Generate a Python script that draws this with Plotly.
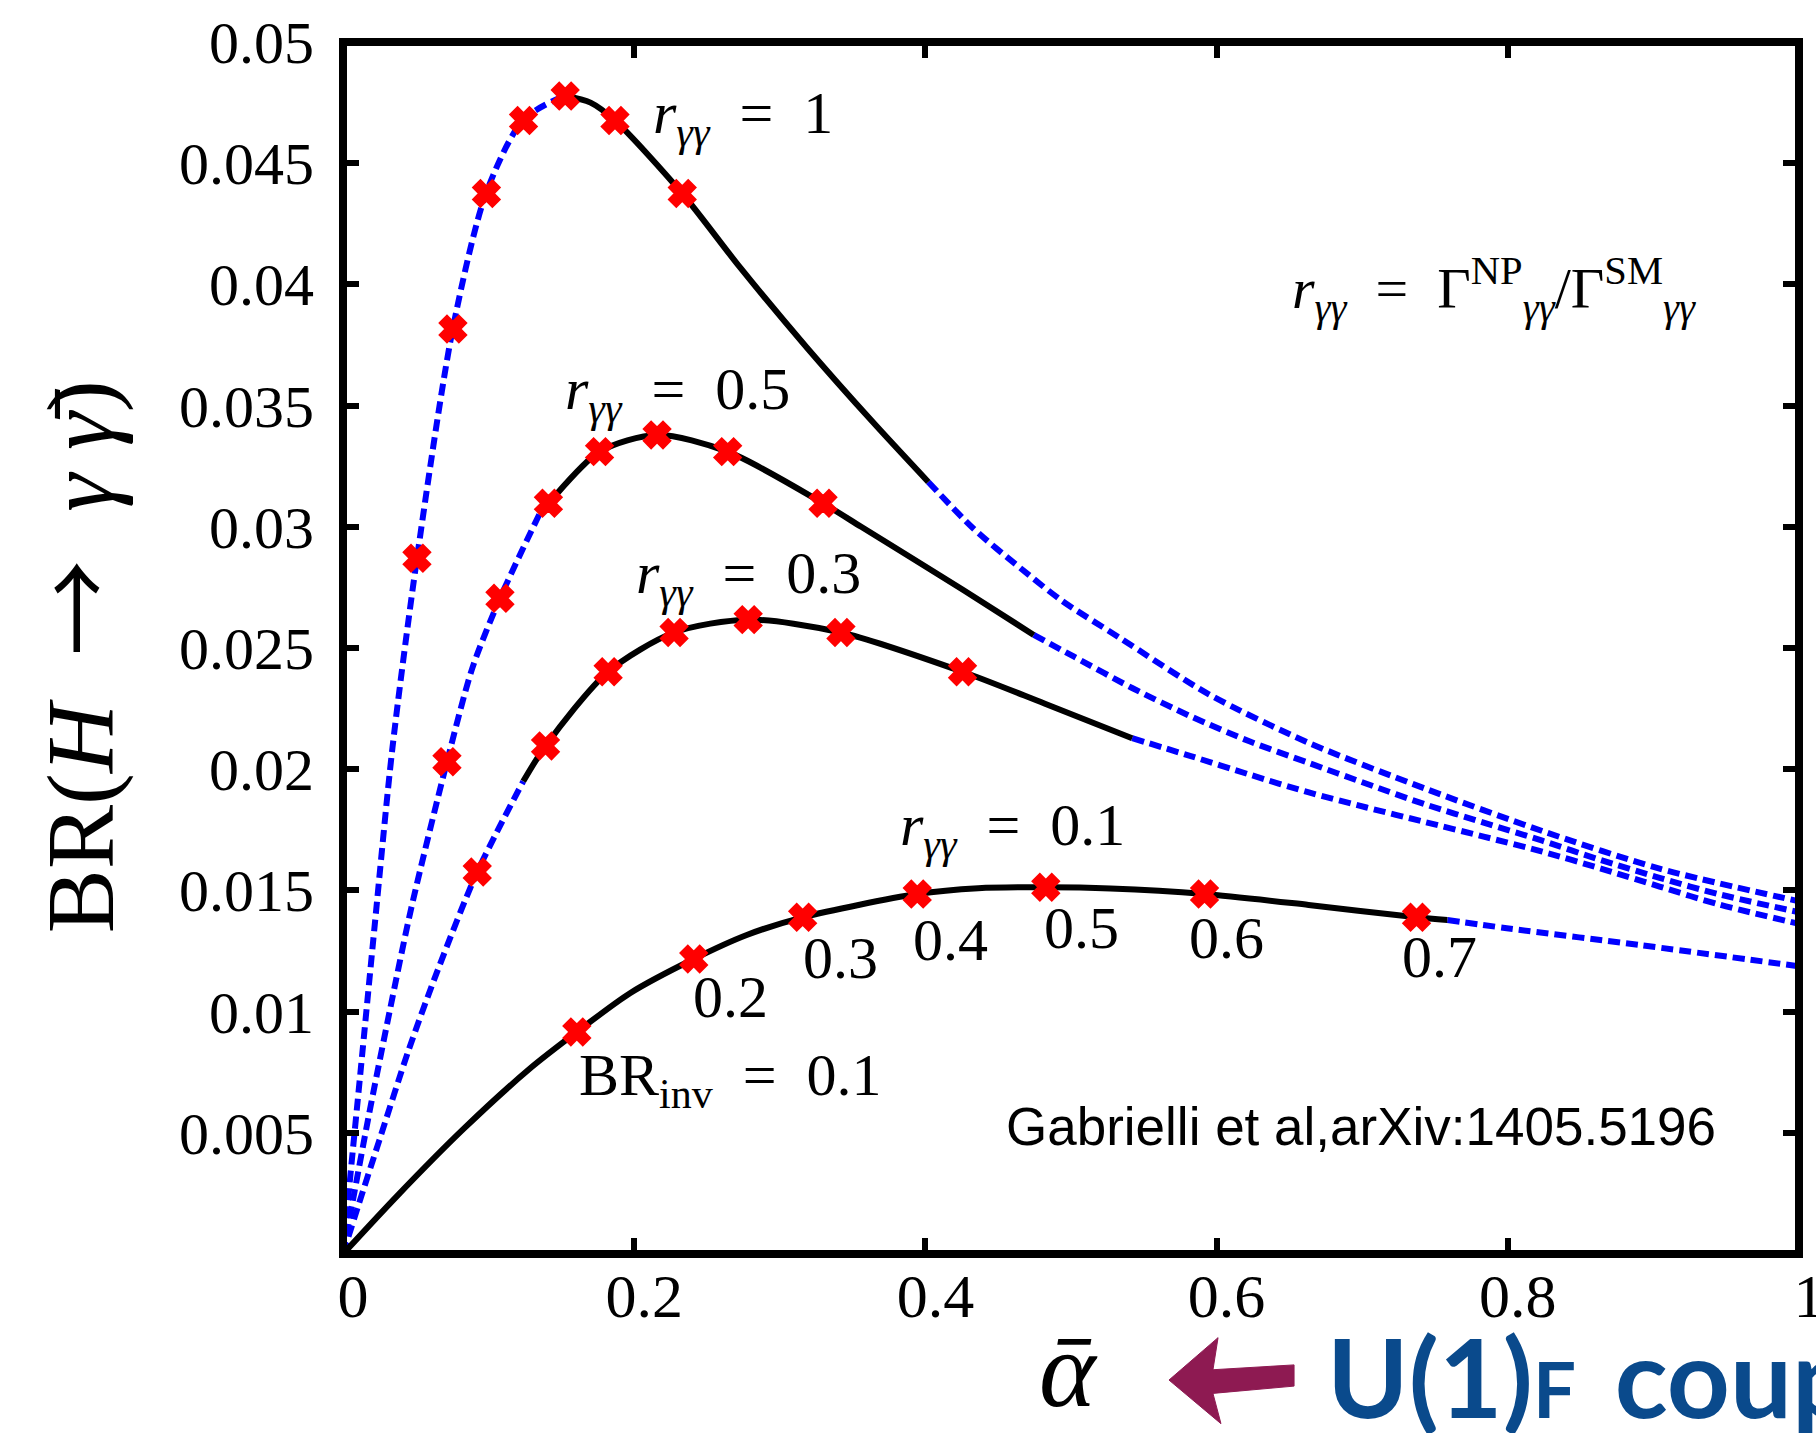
import plotly.graph_objects as go

# ---------------- data ----------------
# r_gg = 1
r1_dl_x = [0, 0.005, 0.012, 0.022, 0.034, 0.0508, 0.0755, 0.0985, 0.124, 0.1526]
r1_dl_y = [0, 0.0032, 0.0075, 0.0137, 0.0209, 0.0287, 0.0382, 0.0438, 0.0468, 0.0478]
r1_s_x = [0.1526, 0.170, 0.1868, 0.2330, 0.2727, 0.3185, 0.3642, 0.4020]
r1_s_y = [0.04777, 0.04750, 0.04676, 0.04375, 0.04070, 0.03740, 0.03430, 0.03185]
r1_dr_x = [0.4020, 0.4335, 0.4656, 0.4938, 0.5340, 0.5944, 0.6628, 0.7432, 0.8237, 0.9042, 1.0]
r1_dr_y = [0.03185, 0.02990, 0.02828, 0.02695, 0.02540, 0.02310, 0.02110, 0.01920, 0.01745, 0.01590, 0.01455]
r1_mk_x = [0.0508, 0.0755, 0.0985, 0.124, 0.1526, 0.1868, 0.2330]
r1_mk_y = [0.02870, 0.03816, 0.04375, 0.04676, 0.04777, 0.04676, 0.04375]

# r_gg = 0.5
r05_dl_x = [0, 0.008, 0.018, 0.032, 0.047, 0.0714, 0.0890, 0.1078, 0.1352]
r05_dl_y = [0, 0.0026, 0.0058, 0.0100, 0.0143, 0.0203, 0.0242, 0.02705, 0.03056]
r05_s_x = [0.1352, 0.1411, 0.1762, 0.2157, 0.2642, 0.3297, 0.3559, 0.3909, 0.4260, 0.4744]
r05_s_y = [0.03056, 0.03097, 0.03310, 0.03379, 0.03310, 0.03097, 0.03000, 0.02870, 0.02739, 0.02554]
r05_dr_x = [0.4744, 0.5018, 0.5420, 0.5823, 0.6225, 0.6628, 0.7030, 0.7432, 0.7834, 0.8237, 0.8639, 0.9042, 0.9444, 1.0]
r05_dr_y = [0.02554, 0.02465, 0.02335, 0.02218, 0.02115, 0.02027, 0.01940, 0.01855, 0.01780, 0.01705, 0.01625, 0.01552, 0.01485, 0.01410]
r05_mk_x = [0.0714, 0.1078, 0.1411, 0.1762, 0.2157, 0.2642, 0.3297]
r05_mk_y = [0.02031, 0.02705, 0.03097, 0.03310, 0.03379, 0.03310, 0.03097]

# r_gg = 0.3
r03_dl_x = [0, 0.010, 0.025, 0.045, 0.065, 0.0922, 0.1238]
r03_dl_y = [0, 0.0019, 0.0047, 0.0084, 0.0117, 0.01576, 0.01950]
r03_s_x = [0.1238, 0.1391, 0.1821, 0.2274, 0.2783, 0.3420, 0.4255, 0.4817, 0.5420]
r03_s_y = [0.01950, 0.02096, 0.02402, 0.02564, 0.02617, 0.02564, 0.02402, 0.02271, 0.02128]
r03_dr_x = [0.5420, 0.5823, 0.6225, 0.6628, 0.7030, 0.7432, 0.7834, 0.8237, 0.8639, 0.9042, 0.9444, 1.0]
r03_dr_y = [0.02128, 0.02054, 0.01978, 0.01905, 0.01842, 0.01782, 0.01722, 0.01660, 0.01590, 0.01516, 0.01443, 0.01362]
r03_mk_x = [0.0922, 0.1391, 0.1821, 0.2274, 0.2783, 0.3420, 0.4255]
r03_mk_y = [0.01576, 0.02096, 0.02402, 0.02564, 0.02617, 0.02564, 0.02402]

# r_gg = 0.1
r01_s_x = [0, 0.0369, 0.0826, 0.1284, 0.1606, 0.1971, 0.2409, 0.2773, 0.3157, 0.3944, 0.4363, 0.4827, 0.5271, 0.5917, 0.6632, 0.7373, 0.7585]
r01_s_y = [0, 0.00238, 0.00515, 0.00765, 0.00916, 0.01076, 0.01217, 0.01316, 0.01389, 0.01485, 0.01509, 0.01513, 0.01508, 0.01485, 0.01440, 0.01389, 0.01378]
r01_dr_x = [0.7585, 0.7993, 0.8900, 1.0]
r01_dr_y = [0.01378, 0.01344, 0.01275, 0.01187]
r01_mk_x = [0.1606, 0.2409, 0.3157, 0.3944, 0.4827, 0.5917, 0.7373]
r01_mk_y = [0.00916, 0.01217, 0.01389, 0.01485, 0.01513, 0.01485, 0.01389]

# BR_inv labels along r=0.1 curve
brinv_labels = ["0.2", "0.3", "0.4", "0.5", "0.6", "0.7"]
brinv_lab_x = [0.2658, 0.3420, 0.4169, 0.5069, 0.6071, 0.7534]
brinv_lab_y = [0.01060, 0.01221, 0.01295, 0.01345, 0.01304, 0.01225]

x_ticks = [0, 0.2, 0.4, 0.6, 0.8, 1]
x_tick_text = ["0", "0.2", "0.4", "0.6", "0.8", "1"]
y_ticks = [0.005, 0.01, 0.015, 0.02, 0.025, 0.03, 0.035, 0.04, 0.045, 0.05]
y_tick_text = ["0.005", "0.01", "0.015", "0.02", "0.025", "0.03", "0.035", "0.04", "0.045", "0.05"]

# ---------------- figure ----------------
SERIF = "Liberation Serif, DejaVu Serif, serif"
BLUE = "#0000ff"
fig = go.Figure()


def seg(x, y, solid):
    fig.add_trace(go.Scatter(
        x=x, y=y, mode="lines", showlegend=False, hoverinfo="skip",
        line=dict(color="black" if solid else BLUE, width=6,
                  dash="solid" if solid else "12px,6px", shape="spline", smoothing=0.8)))


for xs, ys in [(r1_dl_x, r1_dl_y), (r1_dr_x, r1_dr_y), (r05_dl_x, r05_dl_y), (r05_dr_x, r05_dr_y),
               (r03_dl_x, r03_dl_y), (r03_dr_x, r03_dr_y), (r01_dr_x, r01_dr_y)]:
    seg(xs, ys, False)
for xs, ys in [(r1_s_x, r1_s_y), (r05_s_x, r05_s_y), (r03_s_x, r03_s_y), (r01_s_x, r01_s_y)]:
    seg(xs, ys, True)
for xs, ys in [(r1_mk_x, r1_mk_y), (r05_mk_x, r05_mk_y), (r03_mk_x, r03_mk_y), (r01_mk_x, r01_mk_y)]:
    fig.add_trace(go.Scatter(
        x=xs, y=ys, mode="markers", showlegend=False, hoverinfo="skip",
        marker=dict(symbol="x", size=21, color="#ff0000", line=dict(color="#ff0000", width=4))))

annots = []


def txt(s, x, y, size=60, xanchor="left", yanchor="middle", xref="x", yref="y", family=SERIF,
        color="black", angle=0):
    annots.append(dict(text=s, x=x, y=y, xref=xref, yref=yref, xanchor=xanchor, yanchor=yanchor,
                       showarrow=False, textangle=angle, font=dict(family=family, size=size, color=color)))


EQ = "\u2002=\u2002"
RGG = "<i>r</i><sub><i>γγ</i></sub>"
txt(RGG + EQ + "1", 0.2115, 0.0469)
txt(RGG + EQ + "0.5", 0.1511, 0.0355)
txt(RGG + EQ + "0.3", 0.1999, 0.0279)
txt(RGG + EQ + "0.1", 0.3809, 0.0175)
txt(RGG + EQ + "Γ<sup>NP</sup><sub><i>γγ</i></sub>/Γ<sup>SM</sup><sub><i>γγ</i></sub>", 0.6504, 0.0398, size=58)
txt("BR<sub>inv</sub>" + EQ + "0.1", 0.1607, 0.0072)
for s, xx, yy in zip(brinv_labels, brinv_lab_x, brinv_lab_y):
    txt(s, xx, yy, xanchor="center")
txt("Gabrielli et al,arXiv:1405.5196", 0.4540, 0.00524, size=53,
    family="Liberation Sans, Arial, sans-serif")

# axis titles
ARROW = "<span style='font-family:Noto Sans CJK JP'>→</span>"
txt("BR(<i>H</i>\u2002" + ARROW + "\u2002<i>γ</i> <i>γ̄</i>)",
    -0.186, 0.4926, size=96, xanchor="center", xref="paper", yref="paper", angle=-90)
txt("<i>ᾱ</i>", 0.4986, -0.0957, size=108, xanchor="center", xref="paper", yref="paper")
txt("<b>U(1)<span style='font-size:76px'>F</span><span style='font-size:80px'>\u00a0\u00a0</span>coupling</b>",
    0.6745, -0.1000, size=110,
    xref="paper", yref="paper", family="Lato, DejaVu Sans, sans-serif", color="#0a4a8c")

shapes = [
    dict(type="path", xref="paper", yref="paper",
         path="M0.5673,-0.1040 L0.6010,-0.0690 L0.5975,-0.0955 L0.6532,-0.0915 L0.6532,-0.1090 "
              "L0.5975,-0.1150 L0.6030,-0.1400 Z",
         fillcolor="#8e1a52", line=dict(color="#8e1a52", width=1)),
    dict(type="rect", xref="paper", yref="paper", x0=0, y0=0, x1=1, y1=1,
         line=dict(color="black", width=8), layer="above"),
]

fig.update_layout(
    width=1816, height=1433,
    margin=dict(l=343, r=17, t=42, b=179, autoexpand=False),
    paper_bgcolor="white", plot_bgcolor="white",
    annotations=annots, shapes=shapes, showlegend=False,
)
fig.update_xaxes(range=[0, 1], showgrid=False, zeroline=False, showline=False,
                 ticks="inside", ticklen=16, tickwidth=6, tickcolor="black", mirror="allticks",
                 tickvals=x_ticks, ticktext=x_tick_text, automargin=False,
                 tickfont=dict(family=SERIF, size=62, color="black"), ticklabelstandoff=0,
                 ticklabelshift=10, ticklabeloverflow="allow")
fig.update_yaxes(range=[0, 0.05], showgrid=False, zeroline=False, showline=False,
                 ticks="inside", ticklen=16, tickwidth=6, tickcolor="black", mirror="allticks",
                 tickvals=y_ticks, ticktext=y_tick_text, automargin=False,
                 tickfont=dict(family=SERIF, size=60, color="black"), ticklabelstandoff=28)

fig.write_html("out.html")
